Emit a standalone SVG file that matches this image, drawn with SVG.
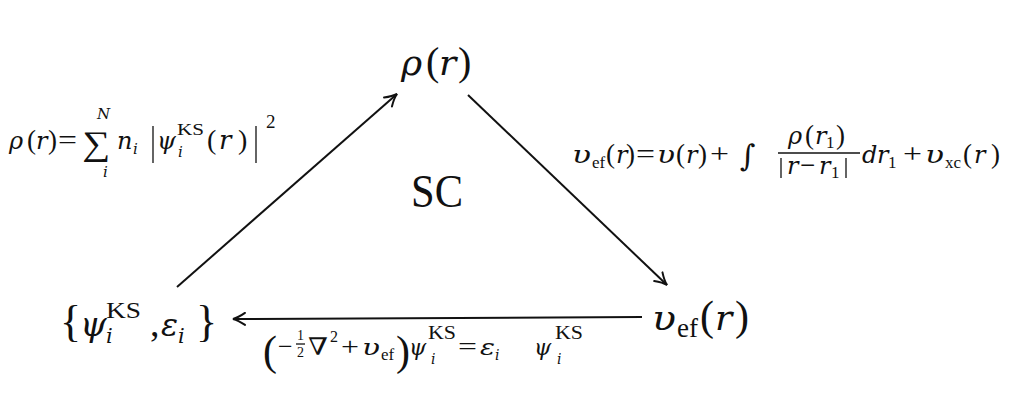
<svg xmlns="http://www.w3.org/2000/svg" width="1027" height="403" viewBox="0 0 1027 403">
<style>
.m{font-family:"DejaVu Serif","Liberation Serif",serif;font-style:italic;fill:#111}
.n{font-family:"Liberation Serif","DejaVu Serif",serif;font-style:normal;fill:#111}
.ln{stroke:#111;stroke-width:2;fill:none}
.thin{stroke:#111;stroke-width:1.3}
</style>
<defs>
<marker id="ah" viewBox="-14 -8 16 16" refX="0" refY="0" markerWidth="16" markerHeight="16" markerUnits="userSpaceOnUse" orient="auto">
<path d="M-12,-6 Q-5,-1.2 0,0 Q-5,1.2 -12,6" stroke="#111" stroke-width="2" fill="none" stroke-linecap="round"/>
</marker>
</defs>
<rect width="1027" height="403" fill="#fff"/>

<g id="connectors">
<path class="ln" d="M177,287 L397,94" marker-end="url(#ah)"/>
<path class="ln" d="M468,95 L667,285" marker-end="url(#ah)"/>
<path class="ln" d="M642,317 L233,319" marker-end="url(#ah)"/>
</g>

<g id="node-rho">
<text class="m" font-size="36" x="401" y="75">ρ</text>
<text class="n" font-size="40" x="426" y="75">(</text>
<text class="m" font-size="36" x="439" y="75">r</text>
<text class="n" font-size="40" x="458" y="75">)</text>
</g>

<g id="node-sc">
<text class="n" font-size="46" x="411" y="207" textLength="52" lengthAdjust="spacingAndGlyphs">SC</text>
</g>

<g id="node-psi">
<text class="n" font-size="44" x="60" y="336">{</text>
<text class="m" font-size="34" x="80" y="336">ψ</text>
<text class="n" font-size="23" x="106" y="318" textLength="35" lengthAdjust="spacingAndGlyphs">KS</text>
<text class="m" font-size="21" x="106" y="343">i</text>
<text class="n" font-size="38" x="150" y="336">,</text>
<text class="m" font-size="32" x="161" y="336" textLength="17" lengthAdjust="spacingAndGlyphs">ε</text>
<text class="m" font-size="21" x="178" y="343">i</text>
<text class="n" font-size="44" x="196" y="336">}</text>
</g>

<g id="node-vef">
<text class="m" font-size="36" x="652" y="330" textLength="24" lengthAdjust="spacingAndGlyphs">υ</text>
<text class="n" font-size="27" x="677" y="337">ef</text>
<text class="n" font-size="42" x="700" y="330">(</text>
<text class="m" font-size="36" x="715" y="330">r</text>
<text class="n" font-size="42" x="735" y="330">)</text>
</g>

<g id="label-rho">
<text class="m" font-size="24" x="9" y="149">ρ</text>
<text class="n" font-size="27" x="27" y="149">(</text>
<text class="m" font-size="24" x="36" y="149">r</text>
<text class="n" font-size="27" x="48" y="149">)</text>
<text class="n" font-size="27" x="58" y="149" textLength="19" lengthAdjust="spacingAndGlyphs">=</text>
<text class="n" font-size="34" x="82" y="155" textLength="28" lengthAdjust="spacingAndGlyphs">∑</text>
<text class="m" font-size="15" x="97" y="119">N</text>
<text class="m" font-size="15" x="103" y="177">i</text>
<text class="m" font-size="24" x="117" y="149">n</text>
<text class="m" font-size="15" x="133" y="154">i</text>
<line class="thin" x1="153" y1="126" x2="153" y2="163"/>
<text class="m" font-size="24" x="157" y="149">ψ</text>
<text class="n" font-size="17" x="177" y="135" textLength="27" lengthAdjust="spacingAndGlyphs">KS</text>
<text class="m" font-size="15" x="178" y="157">i</text>
<text class="n" font-size="28" x="207" y="149">(</text>
<text class="m" font-size="26" x="219" y="149">r</text>
<text class="n" font-size="28" x="238" y="149">)</text>
<line class="thin" x1="256" y1="126" x2="256" y2="163"/>
<text class="n" font-size="19" x="266" y="128">2</text>
</g>

<g id="label-vef">
<text class="m" font-size="24" x="572" y="163" textLength="19" lengthAdjust="spacingAndGlyphs">υ</text>
<text class="n" font-size="17" x="592" y="168">ef</text>
<text class="n" font-size="27" x="606" y="163">(</text>
<text class="m" font-size="24" x="616" y="163">r</text>
<text class="n" font-size="27" x="626" y="163">)</text>
<text class="n" font-size="27" x="636" y="163" textLength="19" lengthAdjust="spacingAndGlyphs">=</text>
<text class="m" font-size="24" x="657" y="163" textLength="18" lengthAdjust="spacingAndGlyphs">υ</text>
<text class="n" font-size="27" x="676" y="163">(</text>
<text class="m" font-size="24" x="686" y="163">r</text>
<text class="n" font-size="27" x="698" y="163">)</text>
<text class="n" font-size="27" x="710" y="163" textLength="19" lengthAdjust="spacingAndGlyphs">+</text>
<text class="m" font-size="30" x="740" y="166">∫</text>
<text class="m" font-size="24" x="788" y="144">ρ</text>
<text class="n" font-size="27" x="805" y="144">(</text>
<text class="m" font-size="24" x="815" y="144">r</text>
<text class="n" font-size="17" x="826" y="148">1</text>
<text class="n" font-size="27" x="836" y="144">)</text>
<line class="thin" x1="778" y1="153" x2="860" y2="153"/>
<line class="thin" x1="781" y1="158" x2="781" y2="178"/>
<text class="m" font-size="24" x="787" y="174">r</text>
<text class="n" font-size="27" x="800" y="174">−</text>
<text class="m" font-size="24" x="819" y="174">r</text>
<text class="n" font-size="17" x="831" y="178">1</text>
<line class="thin" x1="846" y1="158" x2="846" y2="178"/>
<text class="m" font-size="24" x="862" y="163">d</text>
<text class="m" font-size="24" x="877" y="163">r</text>
<text class="n" font-size="17" x="888" y="168">1</text>
<text class="n" font-size="27" x="903" y="163" textLength="19" lengthAdjust="spacingAndGlyphs">+</text>
<text class="m" font-size="24" x="925" y="163" textLength="19" lengthAdjust="spacingAndGlyphs">υ</text>
<text class="n" font-size="17" x="945" y="168">xc</text>
<text class="n" font-size="27" x="963" y="163">(</text>
<text class="m" font-size="24" x="974" y="163">r</text>
<text class="n" font-size="27" x="991" y="163">)</text>
</g>

<g id="label-ks">
<text class="n" font-size="42" x="263" y="365">(</text>
<text class="n" font-size="26" x="278" y="355">−</text>
<text class="n" font-size="14" x="297" y="340">1</text>
<line class="thin" x1="296" y1="344" x2="305" y2="344" stroke-width="1"/>
<text class="n" font-size="14" x="297" y="357">2</text>
<text class="n" font-size="24" x="308" y="355" textLength="20" lengthAdjust="spacingAndGlyphs">∇</text>
<text class="n" font-size="16" x="330" y="342">2</text>
<text class="n" font-size="26" x="341" y="355" textLength="18" lengthAdjust="spacingAndGlyphs">+</text>
<text class="m" font-size="22" x="362" y="355" textLength="18" lengthAdjust="spacingAndGlyphs">υ</text>
<text class="n" font-size="17" x="381" y="360">ef</text>
<text class="n" font-size="42" x="396" y="365">)</text>
<text class="m" font-size="22" x="409" y="355">ψ</text>
<text class="n" font-size="18" x="428" y="339" textLength="28" lengthAdjust="spacingAndGlyphs">KS</text>
<text class="m" font-size="14" x="431" y="364">i</text>
<text class="n" font-size="26" x="458" y="355" textLength="19" lengthAdjust="spacingAndGlyphs">=</text>
<text class="m" font-size="22" x="480" y="355" textLength="15" lengthAdjust="spacingAndGlyphs">ε</text>
<text class="m" font-size="14" x="495" y="360">i</text>
<text class="m" font-size="22" x="534" y="355">ψ</text>
<text class="n" font-size="18" x="555" y="339" textLength="28" lengthAdjust="spacingAndGlyphs">KS</text>
<text class="m" font-size="14" x="557" y="364">i</text>
</g>
</svg>
